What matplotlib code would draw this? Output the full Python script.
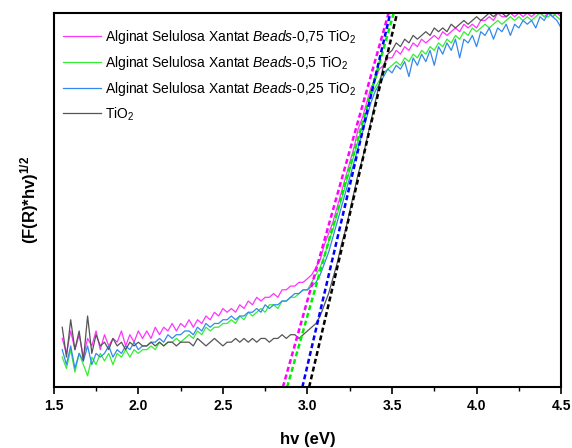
import numpy as np
import matplotlib
matplotlib.use("Agg")
import matplotlib.pyplot as plt

plt.rcParams["font.family"] = ["Liberation Sans", "DejaVu Sans"]
plt.rcParams["mathtext.fontset"] = "custom"
plt.rcParams["mathtext.rm"] = "Liberation Sans"
plt.rcParams["mathtext.it"] = "Liberation Sans:italic"
plt.rcParams["mathtext.bf"] = "Liberation Sans:bold"

# photon energy grid (eV), 0.025 eV steps from 1.55 to 4.50
energy = np.round(np.arange(1.55, 4.5001, 0.025), 3)

# (F(R)*hv)^1/2, normalised to the plot height
beads_075 = [
    0.13, 0.09, 0.15, 0.10, 0.14, 0.08, 0.13, 0.11, 0.15, 0.10,
    0.14, 0.11, 0.13, 0.12, 0.15, 0.11, 0.14, 0.12, 0.15, 0.13,
    0.15, 0.13, 0.16, 0.14, 0.16, 0.15, 0.17, 0.15, 0.17, 0.16,
    0.18, 0.16, 0.18, 0.17, 0.19, 0.18, 0.20, 0.19, 0.21, 0.20,
    0.21, 0.20, 0.22, 0.21, 0.23, 0.22, 0.24, 0.23, 0.24, 0.24,
    0.25, 0.24, 0.26, 0.26, 0.27, 0.27, 0.28, 0.28, 0.29, 0.30,
    0.32, 0.34, 0.38, 0.41, 0.44, 0.48, 0.52, 0.56, 0.60, 0.64,
    0.69, 0.72, 0.76, 0.80, 0.82, 0.85, 0.86, 0.88, 0.88, 0.90,
    0.89, 0.91, 0.90, 0.92, 0.91, 0.93, 0.92, 0.93, 0.94, 0.93,
    0.95, 0.94, 0.95, 0.96, 0.95, 0.97, 0.96, 0.97, 0.96, 0.98,
    0.98, 0.99, 0.98, 1.00, 0.99, 0.99, 1.00, 0.99, 1.00, 0.99,
    1.00, 0.99, 1.00, 1.00, 0.99, 1.00, 0.99, 1.00, 0.99,
]
beads_05 = [
    0.08, 0.05, 0.10, 0.04, 0.09, 0.06, 0.03, 0.08, 0.06, 0.09,
    0.07, 0.09, 0.06, 0.09, 0.08, 0.10, 0.08, 0.10, 0.09, 0.10,
    0.10, 0.11, 0.10, 0.12, 0.11, 0.12, 0.12, 0.13, 0.12, 0.13,
    0.14, 0.13, 0.15, 0.14, 0.16, 0.15, 0.16, 0.16, 0.17, 0.17,
    0.18, 0.17, 0.19, 0.18, 0.20, 0.19, 0.20, 0.21, 0.20, 0.22,
    0.22, 0.21, 0.23, 0.23, 0.24, 0.24, 0.25, 0.26, 0.26, 0.28,
    0.30, 0.32, 0.35, 0.39, 0.42, 0.46, 0.50, 0.54, 0.58, 0.62,
    0.66, 0.70, 0.74, 0.78, 0.80, 0.82, 0.84, 0.85, 0.86, 0.87,
    0.86, 0.88, 0.87, 0.89, 0.88, 0.90, 0.89, 0.91, 0.90, 0.92,
    0.91, 0.93, 0.92, 0.94, 0.93, 0.95, 0.94, 0.96, 0.95, 0.96,
    0.97, 0.96, 0.97, 0.98, 0.97, 0.98, 0.99, 0.98, 0.99, 0.98,
    0.99, 0.98, 0.99, 1.00, 0.99, 0.99, 1.00, 0.99, 0.98,
]
beads_025 = [
    0.10, 0.06, 0.11, 0.05, 0.09, 0.07, 0.11, 0.06, 0.09, 0.08,
    0.09, 0.11, 0.08, 0.10, 0.09, 0.11, 0.10, 0.12, 0.10, 0.11,
    0.11, 0.12, 0.12, 0.13, 0.12, 0.14, 0.13, 0.14, 0.14, 0.15,
    0.15, 0.14, 0.16, 0.15, 0.17, 0.16, 0.17, 0.17, 0.18, 0.18,
    0.19, 0.18, 0.19, 0.19, 0.20, 0.20, 0.21, 0.20, 0.22, 0.21,
    0.22, 0.22, 0.23, 0.23, 0.24, 0.25, 0.25, 0.26, 0.26, 0.27,
    0.28, 0.30, 0.33, 0.36, 0.40, 0.44, 0.48, 0.52, 0.56, 0.60,
    0.64, 0.68, 0.72, 0.76, 0.79, 0.81, 0.83, 0.85, 0.84, 0.86,
    0.85, 0.87, 0.83, 0.88, 0.86, 0.89, 0.87, 0.90, 0.86, 0.91,
    0.89, 0.92, 0.90, 0.93, 0.88, 0.93, 0.92, 0.94, 0.91, 0.95,
    0.94, 0.96, 0.93, 0.96, 0.95, 0.97, 0.94, 0.97, 0.96, 0.98,
    0.97, 0.98, 0.96, 0.99, 0.98, 1.00, 0.99, 0.98, 0.96,
]
tio2 = [
    0.16, 0.08, 0.18, 0.10, 0.15, 0.07, 0.19, 0.09, 0.14, 0.11,
    0.12, 0.10, 0.13, 0.11, 0.12, 0.10, 0.12, 0.11, 0.12, 0.11,
    0.11, 0.12, 0.11, 0.12, 0.11, 0.12, 0.12, 0.11, 0.12, 0.12,
    0.12, 0.11, 0.13, 0.12, 0.11, 0.12, 0.13, 0.12, 0.11, 0.12,
    0.12, 0.13, 0.12, 0.13, 0.12, 0.13, 0.12, 0.13, 0.13, 0.12,
    0.13, 0.13, 0.14, 0.13, 0.14, 0.14, 0.13, 0.14, 0.15, 0.16,
    0.17, 0.19, 0.22, 0.25, 0.29, 0.33, 0.38, 0.42, 0.47, 0.52,
    0.57, 0.61, 0.66, 0.71, 0.76, 0.81, 0.86, 0.89, 0.90, 0.92,
    0.91, 0.93, 0.92, 0.94, 0.93, 0.94, 0.95, 0.94, 0.96, 0.95,
    0.96, 0.95, 0.97, 0.96, 0.97, 0.98, 0.97, 0.98, 0.99, 0.98,
    0.99, 1.00, 0.99, 1.00, 1.00, 0.99, 1.00, 1.00, 1.00, 1.00,
    1.00, 1.00, 1.00, 1.00, 1.00, 1.00, 1.00, 1.00, 1.00,
]

labels = [
    r"Alginat Selulosa Xantat $\it{Beads}$-0,75 TiO$_2$",
    r"Alginat Selulosa Xantat $\it{Beads}$-0,5 TiO$_2$",
    r"Alginat Selulosa Xantat $\it{Beads}$-0,25 TiO$_2$",
    r"TiO$_2$",
]
line_colors = ["#ff33ff", "#33ee33", "#3388ee", "#555555"]
fit_colors = ["#ff00ff", "#00ee00", "#0000ff", "#000000"]

# Tauc extrapolation lines: energy where each crosses the bottom and top of the plot
fit_start = [2.855, 2.88, 2.97, 3.01]
fit_end = [3.48, 3.51, 3.49, 3.53]

fig = plt.figure(figsize=(5.72, 4.48), dpi=100)
ax = fig.add_axes([0.094, 0.136, 0.887, 0.835])

for series, label, color in zip([beads_075, beads_05, beads_025, tio2], labels, line_colors):
    ax.plot(energy, series, color=color, lw=0.9, label=label)

for x0, x1, color in zip(fit_start, fit_end, fit_colors):
    ax.plot([x0, x1], [0, 1], color=color, lw=1.8, dashes=(2, 1.2))

ax.set_xlim(1.5, 4.5)
ax.set_ylim(0, 1)
ax.set_xticks([1.5, 2.0, 2.5, 3.0, 3.5, 4.0, 4.5])
ax.set_xticks(np.arange(1.75, 4.5, 0.5), minor=True)
ax.set_yticks([])
ax.tick_params(axis="x", which="major", direction="out", length=5, width=1.2, labelsize=10)
ax.tick_params(axis="x", which="minor", direction="out", length=3, width=1.0)
for lab in ax.get_xticklabels():
    lab.set_fontweight("bold")
for spine in ax.spines.values():
    spine.set_linewidth(1.5)

ax.set_xlabel("hv (eV)", fontsize=12, fontweight="bold", labelpad=14)
ax.set_ylabel(r"(F(R)*hv)$^{\mathbf{1/2}}$", fontsize=12, fontweight="bold", labelpad=9)

ax.legend(loc="upper left", frameon=False, fontsize=10, handlelength=2.7,
          handletextpad=0.3, labelspacing=0.55, borderaxespad=0.3,
          bbox_to_anchor=(0.0, 0.985))

fig.savefig("out.png", dpi=100)
